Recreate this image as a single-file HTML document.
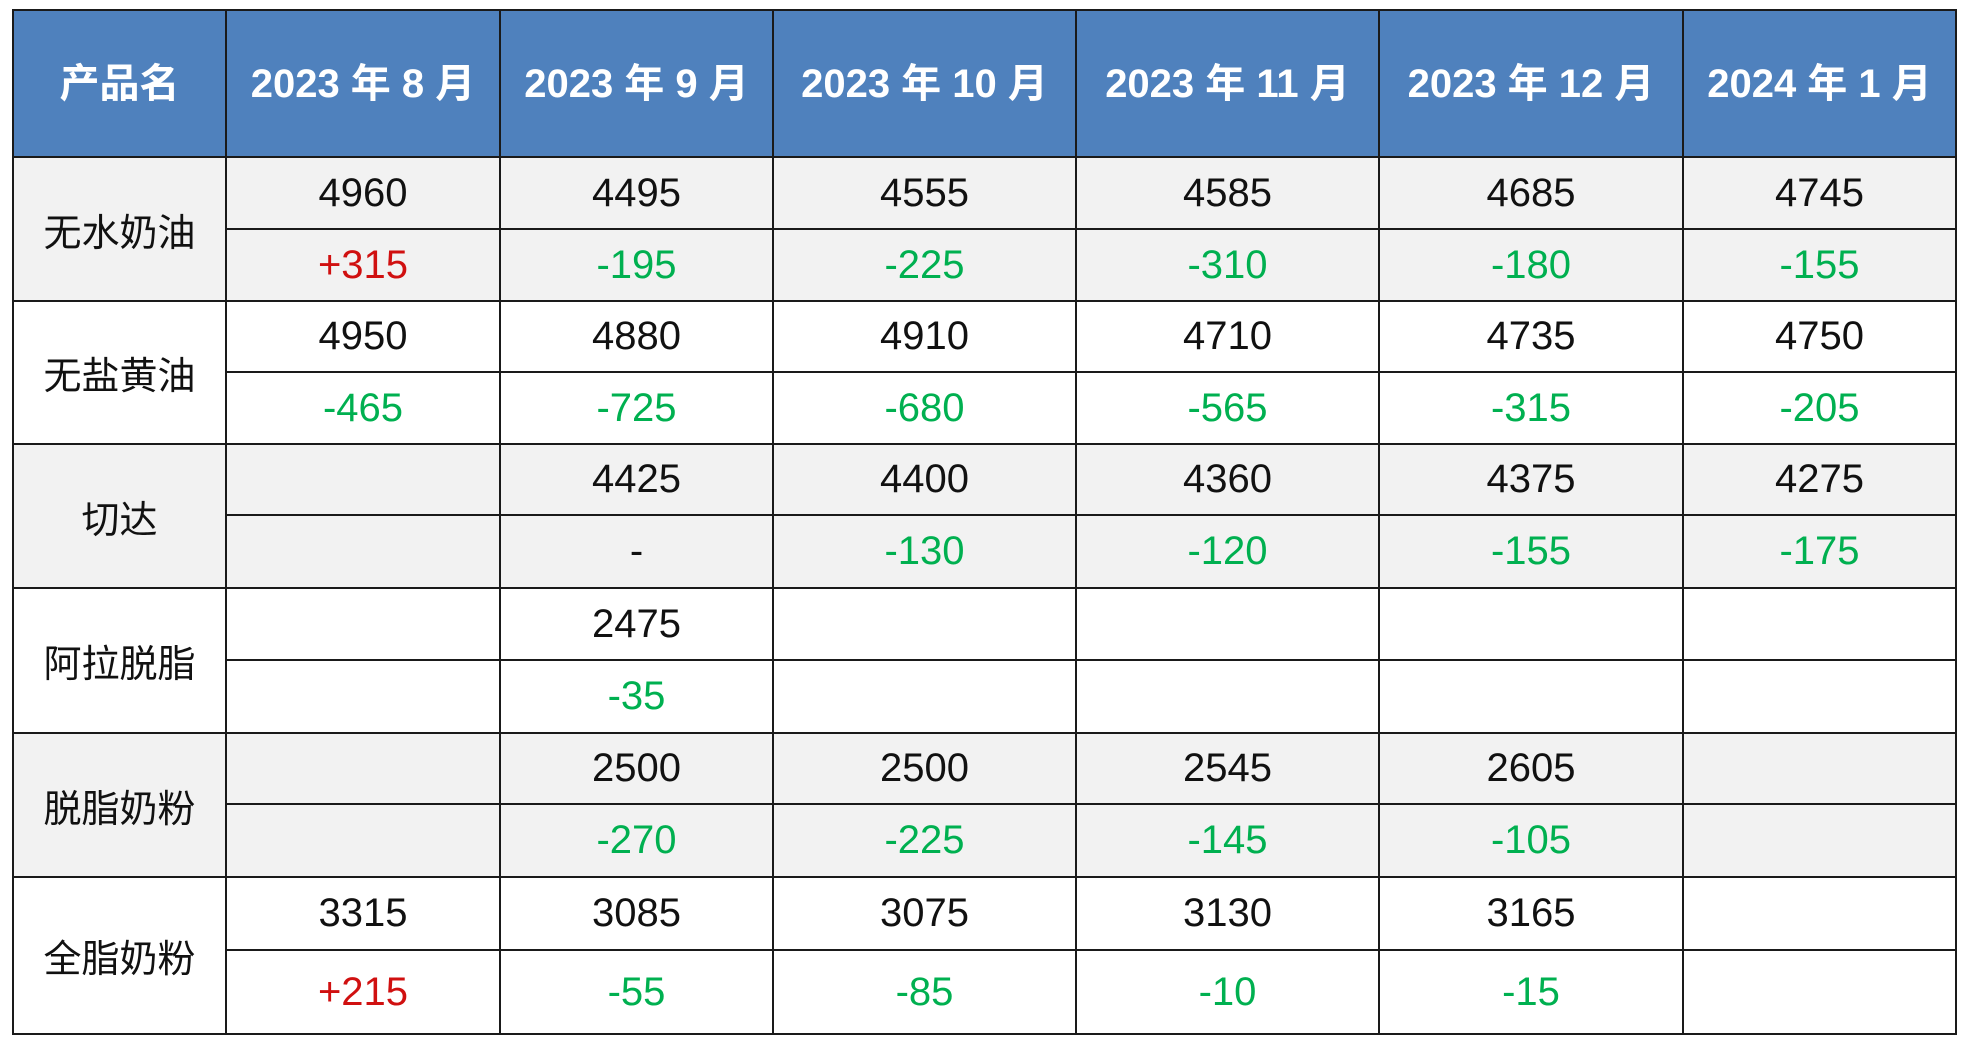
<!DOCTYPE html>
<html><head><meta charset="utf-8"><style>
html,body{margin:0;padding:0;background:#fff;width:1965px;height:1042px;overflow:hidden}
table{position:absolute;left:12px;top:9px;border-collapse:collapse;table-layout:fixed;font-family:"Liberation Sans","Noto Sans CJK SC",sans-serif}
td,th{border:2px solid #1a1a1a;text-align:center;vertical-align:middle;padding:0;font-size:40px;color:#111;font-weight:normal}
th{background:#4f81bd;color:#fff;font-weight:bold;font-size:40px;padding-bottom:8px}
.g td{background:#f2f2f2}
.n{color:#00b050}.r{color:#d01010}
td.lab{font-size:38px}
</style></head><body>
<table>
<colgroup><col style="width:213px"><col style="width:274px"><col style="width:273px"><col style="width:303px"><col style="width:303px"><col style="width:304px"><col style="width:273px"></colgroup>
<tr style="height:147px"><th>产品名</th><th>2023 年 8 月</th><th>2023 年 9 月</th><th>2023 年 10 月</th><th>2023 年 11 月</th><th>2023 年 12 月</th><th>2024 年 1 月</th></tr>
<tr class="g" style="height:72px"><td class="lab" rowspan="2">无水奶油</td><td>4960</td><td>4495</td><td>4555</td><td>4585</td><td>4685</td><td>4745</td></tr>
<tr class="g" style="height:72px"><td class="r">+315</td><td class="n">-195</td><td class="n">-225</td><td class="n">-310</td><td class="n">-180</td><td class="n">-155</td></tr>
<tr style="height:71px"><td class="lab" rowspan="2">无盐黄油</td><td>4950</td><td>4880</td><td>4910</td><td>4710</td><td>4735</td><td>4750</td></tr>
<tr style="height:72px"><td class="n">-465</td><td class="n">-725</td><td class="n">-680</td><td class="n">-565</td><td class="n">-315</td><td class="n">-205</td></tr>
<tr class="g" style="height:71px"><td class="lab" rowspan="2">切达</td><td></td><td>4425</td><td>4400</td><td>4360</td><td>4375</td><td>4275</td></tr>
<tr class="g" style="height:73px"><td></td><td>-</td><td class="n">-130</td><td class="n">-120</td><td class="n">-155</td><td class="n">-175</td></tr>
<tr style="height:72px"><td class="lab" rowspan="2">阿拉脱脂</td><td></td><td>2475</td><td></td><td></td><td></td><td></td></tr>
<tr style="height:73px"><td></td><td class="n">-35</td><td></td><td></td><td></td><td></td></tr>
<tr class="g" style="height:71px"><td class="lab" rowspan="2">脱脂奶粉</td><td></td><td>2500</td><td>2500</td><td>2545</td><td>2605</td><td></td></tr>
<tr class="g" style="height:73px"><td></td><td class="n">-270</td><td class="n">-225</td><td class="n">-145</td><td class="n">-105</td><td></td></tr>
<tr style="height:73px"><td class="lab" rowspan="2">全脂奶粉</td><td>3315</td><td>3085</td><td>3075</td><td>3130</td><td>3165</td><td></td></tr>
<tr style="height:84px"><td class="r">+215</td><td class="n">-55</td><td class="n">-85</td><td class="n">-10</td><td class="n">-15</td><td></td></tr>
</table>
</body></html>
